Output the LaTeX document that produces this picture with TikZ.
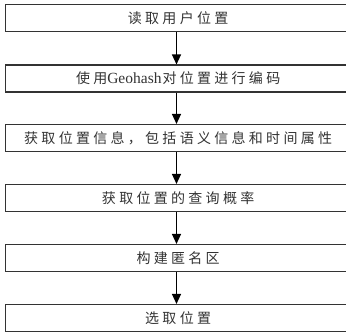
\documentclass[tikz,border=0pt]{standalone}
\usepackage{fontspec}
\setmainfont{Liberation Serif}
\newfontfamily\cjk[LetterSpace=23.5]{Noto Sans CJK SC}
\usetikzlibrary{arrows.meta}
\tikzset{
  stepbox/.style={draw=black!80, line width=1.1pt, minimum width=342pt, minimum height=27pt,
    inner sep=0pt, font=\fontsize{14pt}{16pt}\selectfont, text=black!80},
  flow/.style={draw=black, line width=1.2pt, -{Triangle[width=9pt,length=10pt]}}
}
\begin{document}
\begin{tikzpicture}[x=1pt,y=1pt]
\useasboundingbox (0,0) rectangle (346,-333);
\node[stepbox] (b1) at (176.5,-18) {\kern3.3pt\cjk 读取用户位置};
\node[stepbox] (b2) at (176.5,-78.5) {\kern3.3pt{\cjk 使用}{\fontsize{15.5pt}{16pt}\selectfont Geohash}\kern1pt{\cjk 对位置进行编码}};
\node[stepbox] (b3) at (176.5,-138) {\kern3.3pt\cjk 获取位置信息，包括语义信息和时间属性};
\node[stepbox] (b4) at (176.5,-198) {\kern3.3pt\cjk 获取位置的查询概率};
\node[stepbox] (b5) at (176.5,-258) {\kern3.3pt\cjk 构建匿名区};
\node[stepbox] (b6) at (176.5,-318) {\kern3.3pt\cjk 选取位置};
\draw[flow] (b1) -- (b2);
\draw[flow] (b2) -- (b3);
\draw[flow] (b3) -- (b4);
\draw[flow] (b4) -- (b5);
\draw[flow] (b5) -- (b6);
\end{tikzpicture}
\end{document}
